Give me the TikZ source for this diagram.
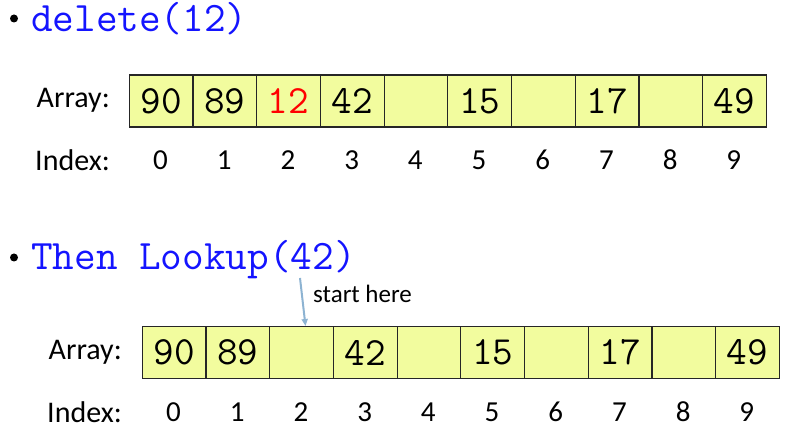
\documentclass[tikz,border=0pt]{standalone}
\usepackage{fontspec}
\setmainfont{Carlito}
\usetikzlibrary{arrows.meta}
\definecolor{cellfill}{RGB}{242,252,158}
\definecolor{codeblue}{RGB}{20,20,255}
\definecolor{arrowblue}{RGB}{141,179,210}
\begin{document}
\begin{tikzpicture}[x=1pt,y=-1pt,
  cell/.style={draw=black!85,line width=1.2pt,fill=cellfill,minimum width=63.7pt,minimum height=52pt,inner sep=0pt,anchor=north west,font=\ttfamily\fontsize{40}{40}\selectfont},
  lbl/.style={font=\fontsize{30}{30}\selectfont,inner sep=0pt},
  idx/.style={font=\fontsize{29}{29}\selectfont,inner sep=0pt},
  code/.style={font=\ttfamily\fontsize{42}{42}\selectfont,text=codeblue,inner sep=0pt,anchor=base west},
  bul/.style={circle,fill=black,inner sep=0pt,minimum size=8pt}]
\useasboundingbox (0,0) rectangle (797,435);
% first part
\node[bul] (b1) at (14,18.5) {};
\node[code] (t1) at (31,32) {delete(12)};
\node[lbl,anchor=east] (arr1) at (110,100) {Array:};
\node[lbl,anchor=east] (ind1) at (110,160) {Index:};
\foreach \v [count=\i from 0] in {90,89,{\textcolor{red}{12}},42,,15,,17,,49} {
  \node[cell] (a\i) at ({128.7+63.7*\i},74.5) {\v};
  \node[idx] (i\i) at ({160.5+63.7*\i},160) {\i};
}
% second part
\node[bul] (b2) at (14,257.5) {};
\node[code] (t2) at (31,270) {Then Lookup(42)};
\node[lbl,anchor=east] (arr2) at (122,352) {Array:};
\node[lbl,anchor=east] (ind2) at (122,412) {Index:};
\foreach \v [count=\i from 0] in {90,89,,42,,15,,17,,49} {
  \node[cell] (c\i) at ({141.7+63.7*\i},326) {\v};
  \node[idx] (j\i) at ({173.5+63.7*\i},412) {\i};
}
\node[font=\fontsize{25}{25}\selectfont,inner sep=0pt,anchor=base west] (sh) at (313,303) {start here};
\coordinate (st) at (300,278);
\draw[arrowblue,line width=2pt,-{Triangle[length=7pt,width=6pt]}] (st) -- (c2.north west -| 305.5,0) coordinate (en);
\end{tikzpicture}
\end{document}
